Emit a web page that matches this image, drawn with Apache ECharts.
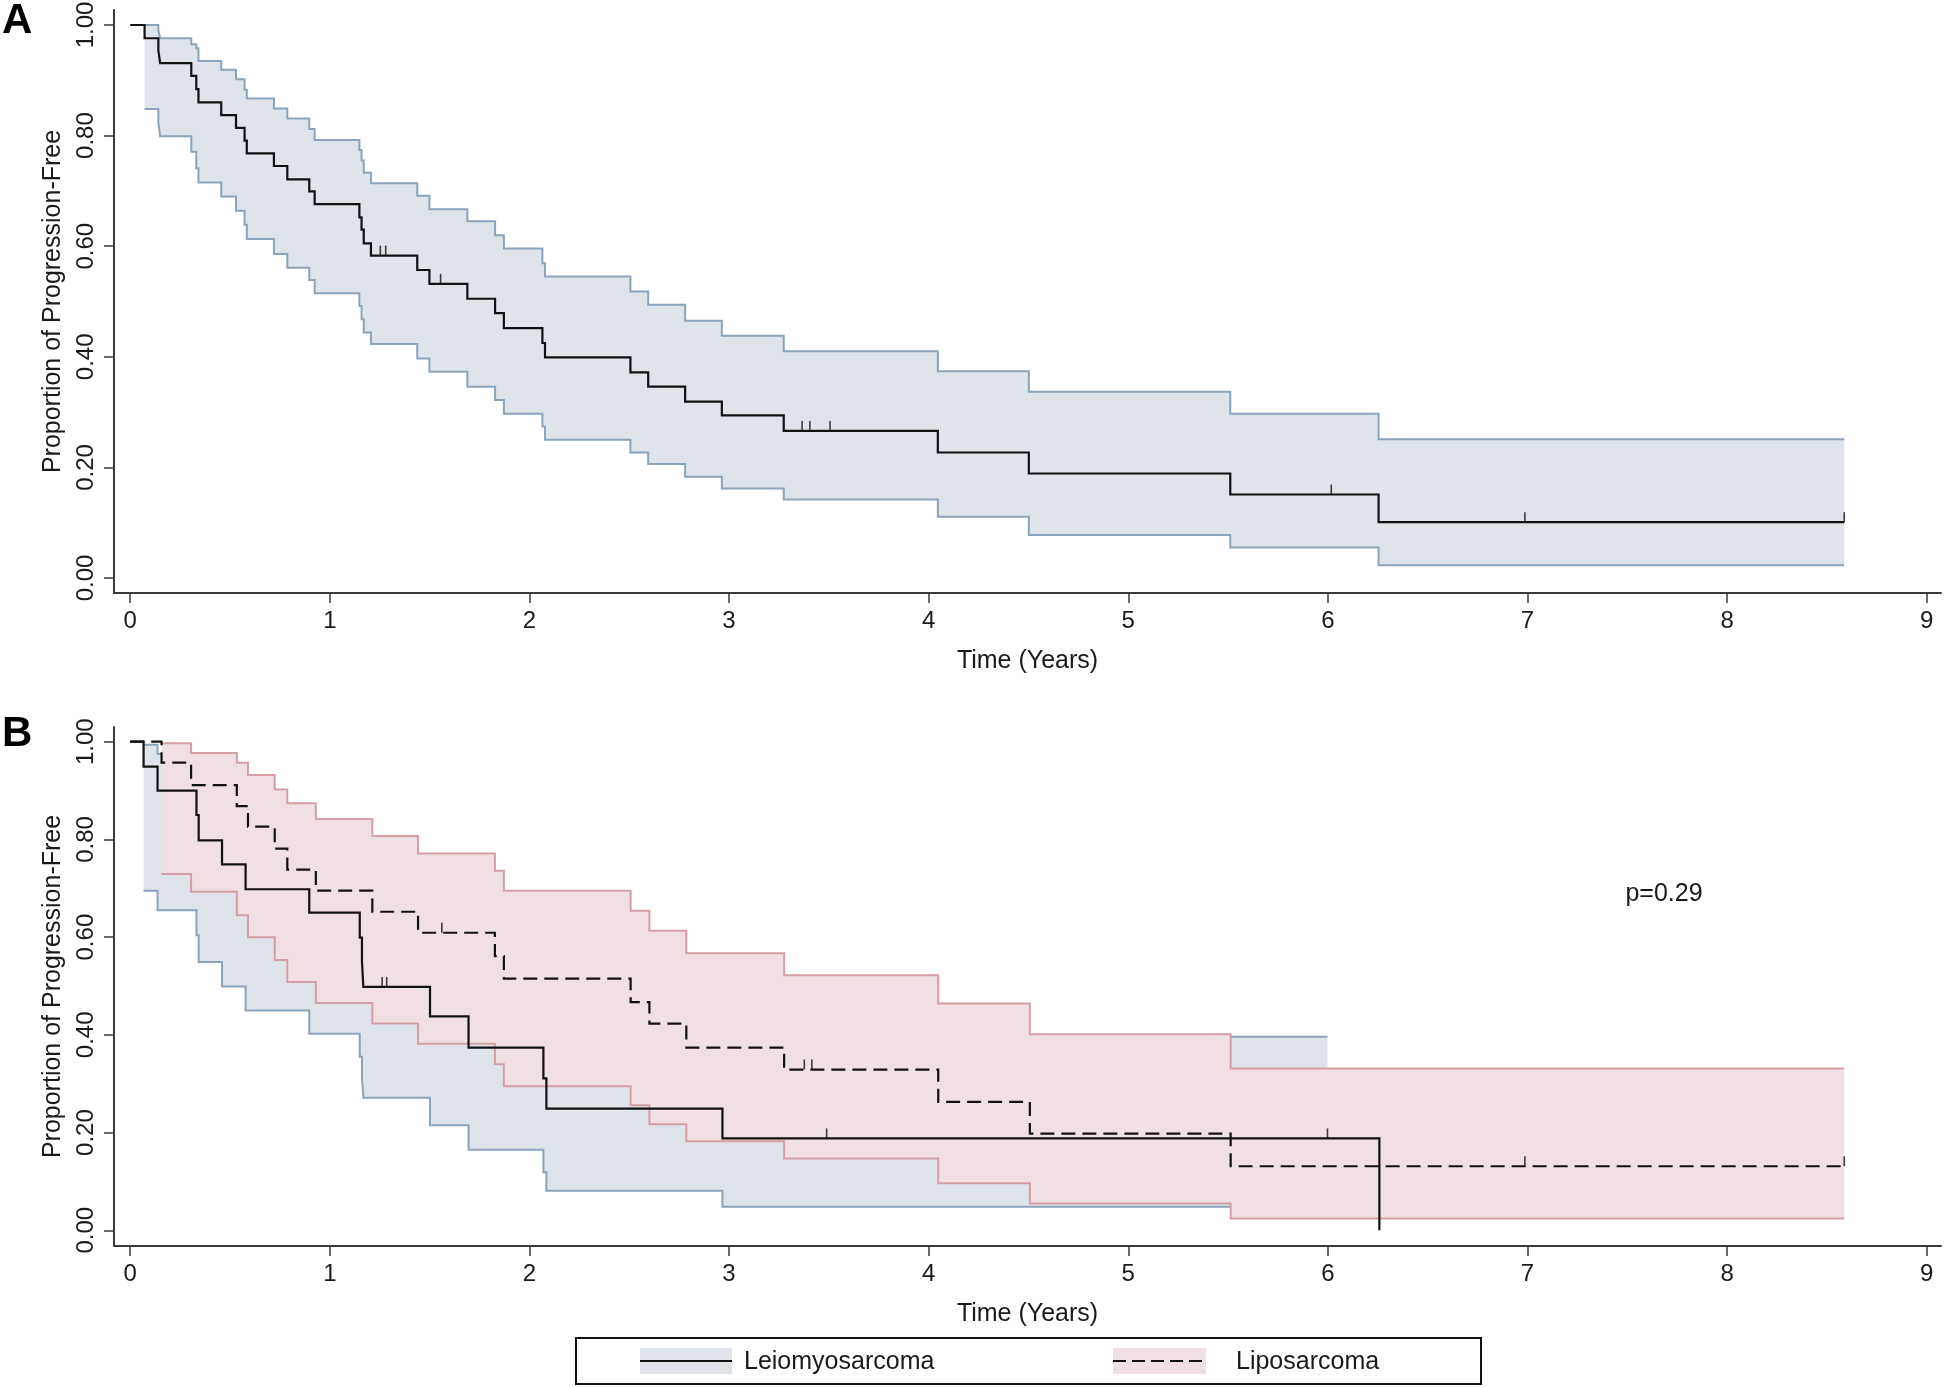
<!DOCTYPE html>
<html><head><meta charset="utf-8">
<script src="https://cdn.jsdelivr.net/npm/echarts@6/dist/echarts.min.js"></script>
<style>html,body{margin:0;padding:0;background:#fff}#c{width:1946px;height:1387px}</style>
</head><body><div id="c"></div>
<script>
// ---------- tick labels ----------
const xTicks = [0, 1, 2, 3, 4, 5, 6, 7, 8, 9];
const yTicks = [0, 0.2, 0.4, 0.6, 0.8, 1.0];

// ---------- Panel A : all patients ----------
const A_km_t = [0, 0.072, 0.141, 0.150, 0.306, 0.331, 0.342, 0.456, 0.530, 0.573, 0.584, 0.720, 0.787, 0.897, 0.924, 1.148, 1.159, 1.170, 1.206, 1.438, 1.499, 1.689, 1.828, 1.872, 2.065, 2.078, 2.506, 2.595, 2.780, 2.964, 3.274, 4.046, 4.502, 5.511, 6.254, 8.587];
const A_km_s = [1.0, 0.976, 0.954, 0.931, 0.908, 0.884, 0.860, 0.837, 0.814, 0.791, 0.768, 0.745, 0.721, 0.699, 0.676, 0.652, 0.630, 0.605, 0.583, 0.557, 0.532, 0.505, 0.479, 0.452, 0.425, 0.399, 0.372, 0.346, 0.319, 0.294, 0.266, 0.227, 0.189, 0.151, 0.101, 0.101];
const A_ci_t = [0.072, 0.141, 0.150, 0.306, 0.331, 0.342, 0.456, 0.530, 0.573, 0.584, 0.720, 0.787, 0.897, 0.924, 1.148, 1.159, 1.170, 1.206, 1.438, 1.499, 1.689, 1.828, 1.872, 2.065, 2.078, 2.506, 2.595, 2.780, 2.964, 3.274, 4.046, 4.502, 5.511, 6.254, 8.587];
const A_ci_hi = [1.0, 0.990, 0.976, 0.965, 0.958, 0.935, 0.919, 0.902, 0.883, 0.867, 0.849, 0.831, 0.812, 0.792, 0.774, 0.755, 0.733, 0.714, 0.691, 0.667, 0.645, 0.620, 0.596, 0.569, 0.545, 0.518, 0.494, 0.465, 0.438, 0.410, 0.374, 0.337, 0.297, 0.251, 0.251];
const A_ci_lo = [0.848, 0.825, 0.799, 0.771, 0.741, 0.715, 0.690, 0.664, 0.639, 0.613, 0.586, 0.561, 0.539, 0.515, 0.492, 0.468, 0.444, 0.423, 0.397, 0.373, 0.346, 0.322, 0.297, 0.274, 0.250, 0.227, 0.206, 0.183, 0.162, 0.142, 0.111, 0.078, 0.055, 0.023, 0.023];
const A_cens_t = [1.253, 1.280, 1.555, 3.366, 3.405, 3.506, 6.017, 6.987, 8.587];
const A_cens_s = [0.583, 0.583, 0.532, 0.266, 0.266, 0.266, 0.151, 0.101, 0.101];

// ---------- Panel B : Leiomyosarcoma ----------
const B_leio_t = [0, 0.067, 0.137, 0.332, 0.343, 0.460, 0.578, 0.897, 1.150, 1.161, 1.168, 1.502, 1.695, 2.070, 2.085, 2.967, 6.258];
const B_leio_s = [1.0, 0.949, 0.900, 0.850, 0.798, 0.749, 0.698, 0.650, 0.599, 0.550, 0.498, 0.438, 0.374, 0.311, 0.249, 0.188, 0.0];
const B_leio_ci_t = [0.067, 0.137, 0.332, 0.343, 0.460, 0.578, 0.897, 1.150, 1.161, 1.168, 1.502, 1.695, 2.070, 2.085, 2.967, 5.998];
const B_leio_ci_hi = [0.994, 0.975, 0.949, 0.920, 0.888, 0.854, 0.817, 0.780, 0.740, 0.700, 0.650, 0.590, 0.530, 0.470, 0.396, 0.396];
const B_leio_ci_lo = [0.695, 0.655, 0.604, 0.549, 0.499, 0.450, 0.402, 0.355, 0.314, 0.271, 0.215, 0.165, 0.119, 0.081, 0.048, 0.048];
const B_leio_cens_t = [1.262, 1.285, 3.489, 5.998];
const B_leio_cens_s = [0.498, 0.498, 0.188, 0.188];

// ---------- Panel B : Liposarcoma ----------
const B_lipo_t = [0, 0.157, 0.305, 0.534, 0.590, 0.724, 0.787, 0.930, 1.213, 1.442, 1.827, 1.872, 2.507, 2.601, 2.786, 3.276, 4.048, 4.507, 5.513, 8.587];
const B_lipo_s = [1.0, 0.957, 0.911, 0.868, 0.826, 0.781, 0.738, 0.695, 0.652, 0.609, 0.561, 0.515, 0.467, 0.423, 0.374, 0.329, 0.263, 0.198, 0.131, 0.131];
const B_lipo_ci_t = [0.157, 0.305, 0.534, 0.590, 0.724, 0.787, 0.930, 1.213, 1.442, 1.827, 1.872, 2.507, 2.601, 2.786, 3.276, 4.048, 4.507, 5.513, 8.587];
const B_lipo_ci_hi = [0.997, 0.977, 0.957, 0.932, 0.902, 0.874, 0.842, 0.807, 0.771, 0.736, 0.695, 0.654, 0.613, 0.567, 0.522, 0.464, 0.401, 0.331, 0.331];
const B_lipo_ci_lo = [0.729, 0.693, 0.645, 0.600, 0.553, 0.508, 0.465, 0.423, 0.382, 0.340, 0.295, 0.256, 0.217, 0.182, 0.147, 0.096, 0.055, 0.024, 0.024];
const B_lipo_cens_t = [1.561, 3.377, 3.415, 6.987, 8.587];
const B_lipo_cens_s = [0.609, 0.329, 0.329, 0.131, 0.131];

const groupNames = ['Leiomyosarcoma', 'Liposarcoma'];
const pText = 'p=0.29';

// ---------- styles ----------
const FONT = 'Liberation Sans, Arial, sans-serif';
const TXT = '#1a1a1a';
const AX = '#3a3a3a';
const BLUE_FILL = '#dfe4ea';
const BLUE_LINE = '#8ba3bb';
const PINK_FILL = '#f1e0e3';
const PINK_LINE = '#d49ea4';
const DASH = [14, 7];

function zip(t, v) { return t.map((x, i) => [x, v[i]]); }

function band(ai, t, lo, hi, fill, z) {
  return {
    type: 'custom', xAxisIndex: ai, yAxisIndex: ai, z: z, silent: true,
    data: [[t[0], lo[0]]],
    renderItem: function (params, api) {
      const pts = [];
      for (let i = 0; i < t.length; i++) {
        const tn = i < t.length - 1 ? t[i + 1] : t[i];
        pts.push(api.coord([t[i], hi[i]]));
        pts.push(api.coord([tn, hi[i]]));
      }
      for (let i = t.length - 1; i >= 0; i--) {
        const tn = i < t.length - 1 ? t[i + 1] : t[i];
        pts.push(api.coord([tn, lo[i]]));
        pts.push(api.coord([t[i], lo[i]]));
      }
      return { type: 'polygon', shape: { points: pts }, style: { fill: fill } };
    }
  };
}
function stepLine(ai, t, v, color, width, type, z) {
  return {
    type: 'line', xAxisIndex: ai, yAxisIndex: ai, data: zip(t, v), step: 'end',
    showSymbol: false, symbol: 'none', z: z, silent: true,
    lineStyle: { color: color, width: width, type: type, cap: 'butt', join: 'miter' }
  };
}
function censor(ai, t, v, z) {
  return {
    type: 'scatter', xAxisIndex: ai, yAxisIndex: ai, data: zip(t, v), z: z, silent: true,
    symbol: 'rect', symbolSize: [1.6, 10], symbolOffset: [0, -5],
    itemStyle: { color: '#111' }
  };
}
function xAxisCfg(gi) {
  return {
    type: 'value', gridIndex: gi, min: -0.0812, max: 9.0716,
    name: 'Time (Years)', nameLocation: 'middle', nameGap: 56,
    nameTextStyle: { fontSize: 25, color: TXT, fontFamily: FONT },
    axisLine: { show: true, onZero: false, lineStyle: { color: AX, width: 2 } },
    axisTick: { show: true, customValues: xTicks, length: 10, lineStyle: { color: AX, width: 1.5 } },
    axisLabel: { customValues: xTicks, fontSize: 24, color: TXT, margin: 16, fontFamily: FONT },
    splitLine: { show: false }
  };
}
function yAxisCfg(gi, mn, mx) {
  return {
    type: 'value', gridIndex: gi, min: mn, max: mx,
    name: 'Proportion of Progression-Free', nameLocation: 'middle', nameGap: 47,
    nameTextStyle: { fontSize: 25, color: TXT, fontFamily: FONT },
    axisLine: { show: true, onZero: false, lineStyle: { color: AX, width: 2 } },
    axisTick: { show: true, customValues: yTicks, length: 10, lineStyle: { color: AX, width: 1.5 } },
    axisLabel: { customValues: yTicks, rotate: 90, fontSize: 24, color: TXT, margin: 16, fontFamily: FONT,
      formatter: v => v.toFixed(2) },
    splitLine: { show: false }
  };
}

const chart = echarts.init(document.getElementById('c'), null, { renderer: 'canvas' });
chart.setOption({
  animation: false,
  backgroundColor: '#fff',
  grid: [
    { left: 114, top: 10, width: 1827, height: 583, containLabel: false, outerBoundsMode: 'none' },
    { left: 114, top: 727, width: 1827, height: 519, containLabel: false, outerBoundsMode: 'none' }
  ],
  xAxis: [xAxisCfg(0), xAxisCfg(1)],
  yAxis: [yAxisCfg(0, -0.0271, 1.0271), yAxisCfg(1, -0.0322, 1.0301)],
  series: [
    // Panel A
    band(0, A_ci_t, A_ci_lo, A_ci_hi, BLUE_FILL, 1),
    stepLine(0, A_ci_t, A_ci_hi, BLUE_LINE, 2, 'solid', 2),
    stepLine(0, A_ci_t, A_ci_lo, BLUE_LINE, 2, 'solid', 2),
    stepLine(0, A_km_t, A_km_s, '#111', 2.2, 'solid', 6),
    censor(0, A_cens_t, A_cens_s, 7),
    // Panel B
    band(1, B_leio_ci_t, B_leio_ci_lo, B_leio_ci_hi, BLUE_FILL, 1),
    stepLine(1, B_leio_ci_t, B_leio_ci_hi, BLUE_LINE, 2, 'solid', 2),
    stepLine(1, B_leio_ci_t, B_leio_ci_lo, BLUE_LINE, 2, 'solid', 2),
    band(1, B_lipo_ci_t, B_lipo_ci_lo, B_lipo_ci_hi, PINK_FILL, 3),
    stepLine(1, B_lipo_ci_t, B_lipo_ci_hi, PINK_LINE, 2, 'solid', 4),
    stepLine(1, B_lipo_ci_t, B_lipo_ci_lo, PINK_LINE, 2, 'solid', 4),
    stepLine(1, B_leio_t, B_leio_s, '#111', 2.2, 'solid', 6),
    stepLine(1, B_lipo_t, B_lipo_s, '#111', 2.2, DASH, 6),
    censor(1, B_leio_cens_t, B_leio_cens_s, 7),
    censor(1, B_lipo_cens_t, B_lipo_cens_s, 7)
  ],
  graphic: [
    { type: 'text', left: 2, top: 0, style: { text: 'A', font: 'bold 42px ' + FONT, fill: '#000' } },
    { type: 'text', left: 2, top: 713, style: { text: 'B', font: 'bold 42px ' + FONT, fill: '#000' } },
    { type: 'text', x: 1664, y: 894, style: { text: pText, font: '25px ' + FONT, fill: TXT, align: 'center', verticalAlign: 'middle' } },
    // legend
    { type: 'rect', shape: { x: 576, y: 1338, width: 905, height: 46 }, style: { fill: '#fff', stroke: '#111', lineWidth: 2 } },
    { type: 'rect', shape: { x: 640, y: 1348, width: 92, height: 26 }, style: { fill: BLUE_FILL } },
    { type: 'line', shape: { x1: 640, y1: 1361, x2: 732, y2: 1361 }, style: { stroke: '#111', lineWidth: 2.2 } },
    { type: 'text', x: 744, y: 1362, style: { text: groupNames[0], font: '25px ' + FONT, fill: TXT, verticalAlign: 'middle' } },
    { type: 'rect', shape: { x: 1113, y: 1348, width: 93, height: 26 }, style: { fill: PINK_FILL } },
    { type: 'line', shape: { x1: 1113, y1: 1361, x2: 1206, y2: 1361 }, style: { stroke: '#111', lineWidth: 2.2, lineDash: [13, 6] } },
    { type: 'text', x: 1236, y: 1362, style: { text: groupNames[1], font: '25px ' + FONT, fill: TXT, verticalAlign: 'middle' } }
  ]
});
</script></body></html>
